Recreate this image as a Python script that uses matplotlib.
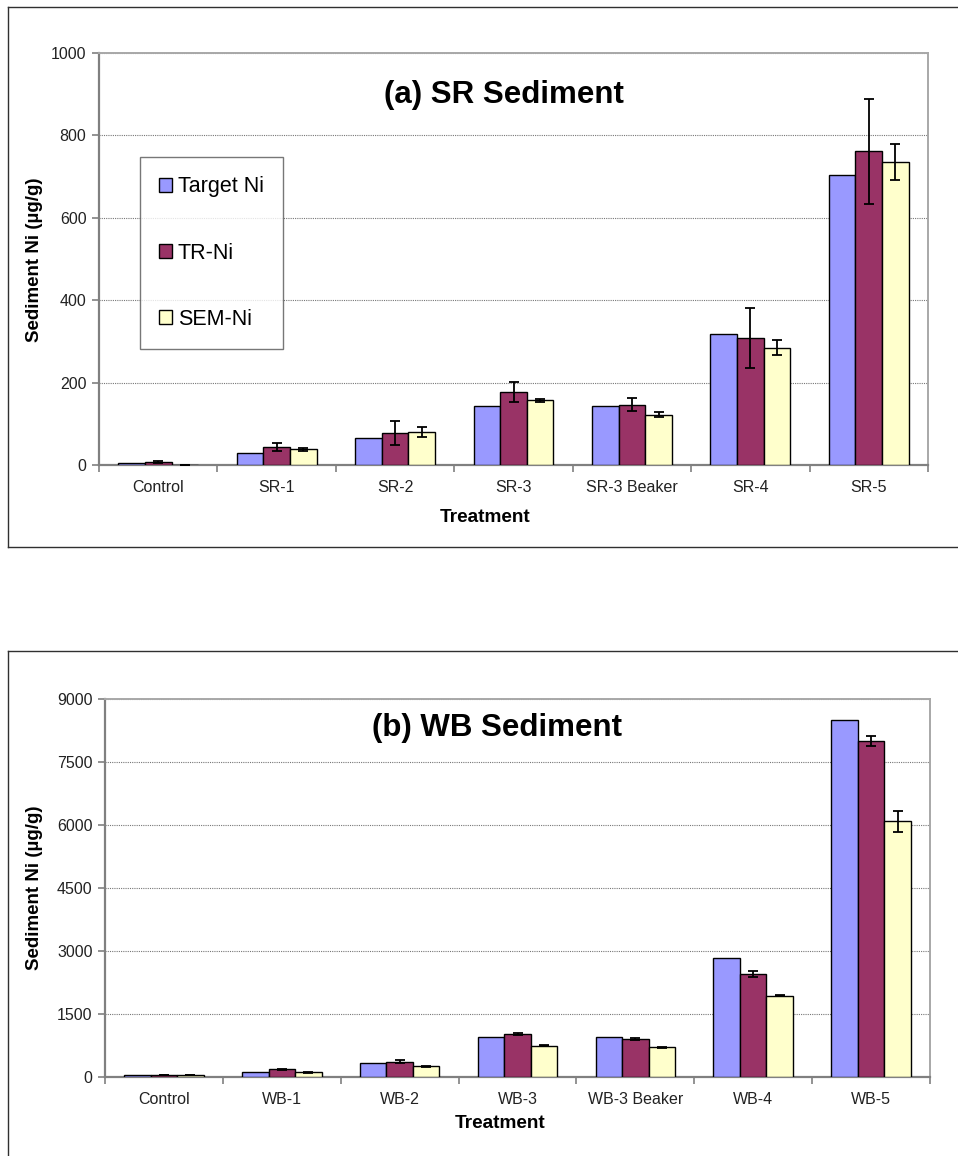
import matplotlib
matplotlib.use("Agg")
import matplotlib.pyplot as plt
from matplotlib.lines import Line2D
import numpy as np

plt.rcParams['font.family'] = ['Liberation Sans', 'DejaVu Sans']

series = ["Target Ni", "TR-Ni", "SEM-Ni"]
colors = ["#9999FF", "#993366", "#FFFFCC"]

# (a) SR sediment
sr_labels = ["Control", "SR-1", "SR-2", "SR-3", "SR-3 Beaker", "SR-4", "SR-5"]
sr_target = [5, 29, 66, 144, 144, 317, 704]
sr_tr = [7, 44, 78, 177, 146, 309, 761]
sr_tr_err = [3, 10, 30, 24, 16, 73, 127]
sr_sem = [1, 38, 80, 157, 122, 285, 736]
sr_sem_err = [0, 3, 13, 4, 6, 19, 44]

# (b) WB sediment
wb_labels = ["Control", "WB-1", "WB-2", "WB-3", "WB-3 Beaker", "WB-4", "WB-5"]
wb_target = [55, 118, 331, 961, 961, 2837, 8503]
wb_tr = [50, 181, 363, 1017, 906, 2451, 7998]
wb_tr_err = [5, 15, 40, 25, 20, 70, 120]
wb_sem = [40, 110, 260, 749, 709, 1931, 6091]
wb_sem_err = [3, 10, 10, 10, 10, 10, 250]

W, H = 958, 1156
fig = plt.figure(figsize=(W / 100, H / 100), dpi=100)


def fx(px):
    return px / W


def fy(py):
    return 1 - py / H


def frame(top, bottom):
    # thin black border around each chart
    kw = dict(color="#303030", lw=1.0, transform=fig.transFigure)
    fig.add_artist(Line2D([fx(8), fx(8)], [fy(top), fy(bottom)], **kw))
    fig.add_artist(Line2D([fx(8), 1.0], [fy(top), fy(top)], **kw))
    if bottom < H:
        fig.add_artist(Line2D([fx(8), 1.0], [fy(bottom), fy(bottom)], **kw))


def bar_chart(rect, labels, target, tr, tr_err, sem, sem_err, ymax, step):
    ax = fig.add_axes(rect)
    x = np.arange(len(labels))
    w = 0.225
    ek = dict(ecolor="black", elinewidth=1.3, capsize=3.5, capthick=1.3)
    ax.bar(x - w, target, w, color=colors[0], edgecolor="black", lw=1.0,
           label=series[0], zorder=3)
    ax.bar(x, tr, w, color=colors[1], edgecolor="black", lw=1.0,
           yerr=tr_err, error_kw=ek, label=series[1], zorder=3)
    ax.bar(x + w, sem, w, color=colors[2], edgecolor="black", lw=1.0,
           yerr=sem_err, error_kw=ek, label=series[2], zorder=3)

    ax.set_xlim(-0.5, len(labels) - 0.5)
    ax.set_ylim(0, ymax)
    ax.set_yticks(np.arange(0, ymax + 1, step))
    ax.set_xticks(x)
    ax.set_xticklabels(labels)
    ax.set_xticks(np.arange(len(labels) + 1) - 0.5, minor=True)
    ax.tick_params(axis="x", which="major", length=0, pad=11,
                   labelsize=11.5, colors="#222222")
    ax.tick_params(axis="x", which="minor", length=5, width=1.2,
                   color="#808080", direction="out")
    ax.tick_params(axis="y", length=5, width=1.2, color="#808080",
                   direction="out", labelsize=11.5, labelcolor="#222222", pad=4)

    ax.yaxis.grid(True, linestyle=(0, (1, 1)), color="#777777", lw=0.8, zorder=0)
    for side in ("left", "bottom"):
        ax.spines[side].set_color("#808080")
        ax.spines[side].set_linewidth(1.6)
    for side in ("top", "right"):
        ax.spines[side].set_color("#A8A8A8")
        ax.spines[side].set_linewidth(1.4)
    return ax


# top chart
frame(7, 547)
ax1 = bar_chart([fx(99), fy(465), fx(928) - fx(99), fy(53) - fy(465)],
                sr_labels, sr_target, sr_tr, sr_tr_err, sr_sem, sr_sem_err,
                1000, 200)
fig.text(fx(504), fy(95), "(a) SR Sediment", fontsize=22.5, fontweight="bold",
         ha="center", va="center")
fig.text(fx(485), fy(518), "Treatment", fontsize=13.7, fontweight="bold",
         ha="center", va="center")
fig.text(fx(35), fy(260), "Sediment Ni (\u00b5g/g)", fontsize=13.5,
         fontweight="bold", rotation=90, ha="center", va="center")
leg = ax1.legend(loc="upper left", bbox_to_anchor=(fx(140), fy(157)),
                 bbox_transform=fig.transFigure, fontsize=15.5, frameon=True,
                 fancybox=False, handlelength=0.6, handleheight=0.6,
                 handletextpad=0.25, labelspacing=2.1, borderpad=0.9,
                 borderaxespad=0)
leg.get_frame().set_edgecolor("#555555")
leg.get_frame().set_linewidth(1.0)

# bottom chart
frame(651, H + 10)
bar_chart([fx(105), fy(1077), fx(930) - fx(105), fy(699) - fy(1077)],
          wb_labels, wb_target, wb_tr, wb_tr_err, wb_sem, wb_sem_err,
          9000, 1500)
fig.text(fx(497), fy(728), "(b) WB Sediment", fontsize=22.5, fontweight="bold",
         ha="center", va="center")
fig.text(fx(500), fy(1123), "Treatment", fontsize=13.7, fontweight="bold",
         ha="center", va="center")
fig.text(fx(35), fy(888), "Sediment Ni (\u00b5g/g)", fontsize=13.5,
         fontweight="bold", rotation=90, ha="center", va="center")

fig.savefig("out.png", dpi=100)
